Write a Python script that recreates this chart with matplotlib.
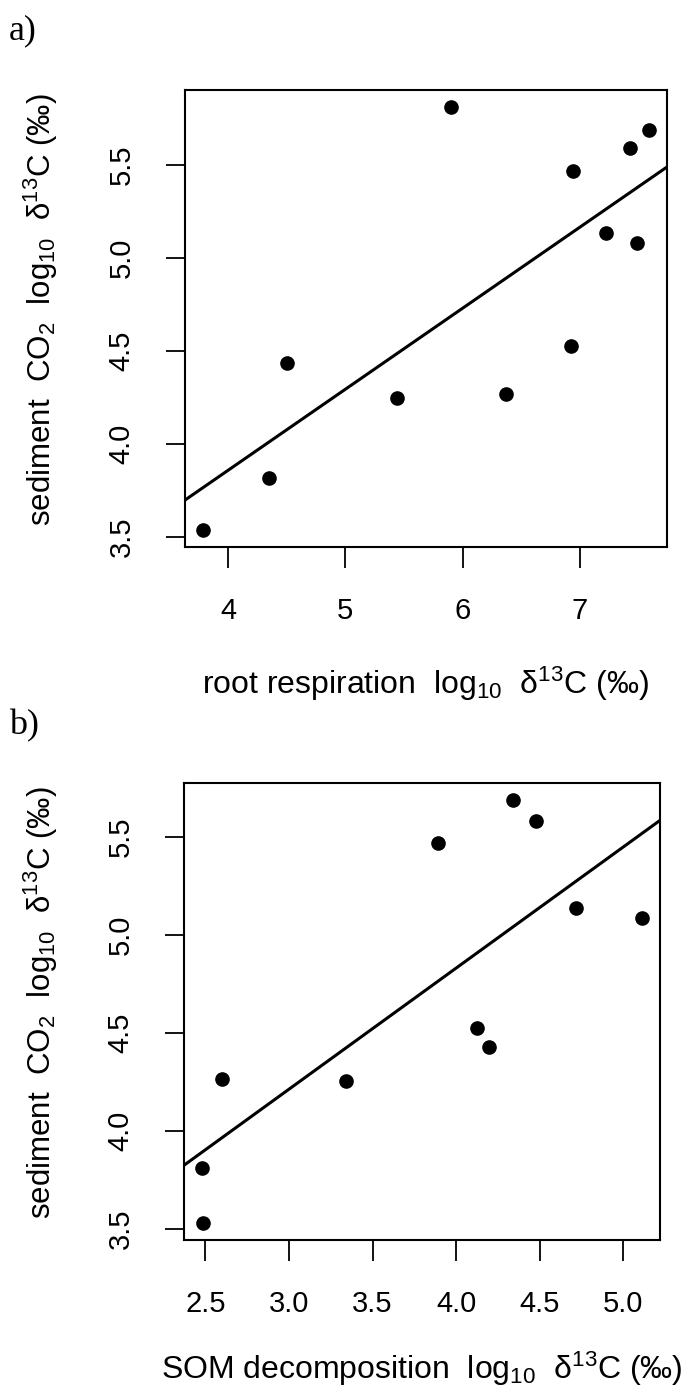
import matplotlib
matplotlib.use('Agg')
import matplotlib.pyplot as plt
import numpy as np

plt.rcParams['font.family'] = ['Liberation Sans', 'DejaVu Sans']
plt.rcParams['mathtext.fontset'] = 'custom'
plt.rcParams['mathtext.rm'] = 'Liberation Sans'
plt.rcParams['mathtext.it'] = 'Liberation Sans:italic'
plt.rcParams['mathtext.default'] = 'regular'

# panel a: root respiration vs sediment CO2
root_x = [5.90, 7.59, 7.43, 6.94, 7.22, 7.485, 6.92, 4.506, 5.44, 6.37, 4.349, 3.786]
root_y = [5.81, 5.688, 5.588, 5.464, 5.134, 5.077, 4.523, 4.434, 4.245, 4.269, 3.814, 3.536]

# panel b: SOM decomposition vs sediment CO2
som_x = [4.343, 4.478, 3.894, 4.720, 5.114, 4.124, 4.198, 2.598, 3.344, 2.478, 2.488]
som_y = [5.687, 5.581, 5.466, 5.135, 5.084, 4.523, 4.427, 4.263, 4.253, 3.810, 3.531]

a_xticks = [4, 5, 6, 7]
a_xticklabels = ['4', '5', '6', '7']
b_xticks = [2.5, 3.0, 3.5, 4.0, 4.5, 5.0]
b_xticklabels = ['2.5', '3.0', '3.5', '4.0', '4.5', '5.0']
yticks = [3.5, 4.0, 4.5, 5.0, 5.5]
yticklabels = ['3.5', '4.0', '4.5', '5.0', '5.5']

ylab = r'sediment  CO$_2$  log$_{10}$  δ$^{13}$C (‰)'
a_xlab = r'root respiration  log$_{10}$  δ$^{13}$C (‰)'
b_xlab = r'SOM decomposition  log$_{10}$  δ$^{13}$C (‰)'

W, H = 699, 1392
fig = plt.figure(figsize=(W / 100, H / 100), dpi=100)


def panel(rect, x, y, xt, xtl, xlab, xlab_y):
    ax = fig.add_axes(rect)
    x = np.asarray(x)
    y = np.asarray(y)
    ax.plot(x, y, 'o', color='black', markersize=9.5, zorder=3)
    ax.set_xlim(x.min() - 0.04 * np.ptp(x), x.max() + 0.04 * np.ptp(x))
    ax.set_ylim(y.min() - 0.04 * np.ptp(y), y.max() + 0.04 * np.ptp(y))
    # least squares line across the whole plot region
    k, b = np.polyfit(x, y, 1)
    xl = np.array(ax.get_xlim())
    ax.plot(xl, k * xl + b, color='black', linewidth=2.2)
    ax.set_xlim(xl)
    ax.set_xticks(xt)
    ax.set_xticklabels(xtl)
    ax.set_yticks(yticks)
    ax.set_yticklabels(yticklabels, rotation=90, va='center')
    ax.tick_params(axis='x', length=15, width=1.3, labelsize=21, pad=21)
    ax.tick_params(axis='y', length=13.5, width=1.3, labelsize=21, pad=22)
    for s in ax.spines.values():
        s.set_linewidth(1.5)
    ax.set_xlabel(xlab, fontsize=23)
    ax.set_ylabel(ylab, fontsize=22.5)
    ax.xaxis.set_label_coords(0.5, xlab_y)
    ax.yaxis.set_label_coords(-0.30, 0.52)
    ax.xaxis.label.set_va('center')
    ax.yaxis.label.set_va('center')
    return ax


panel([185 / W, 1 - 547 / H, 482 / W, 457 / H], root_x, root_y, a_xticks, a_xticklabels, a_xlab, -0.30)
panel([184 / W, 1 - 1240 / H, 476 / W, 457 / H], som_x, som_y, b_xticks, b_xticklabels, b_xlab, -0.283)

fig.text(9 / W, 1 - 31 / H, 'a)', family='Liberation Serif', fontsize=26, va='center', ha='left')
fig.text(9 / W, 1 - 726 / H, 'b)', family='Liberation Serif', fontsize=26, va='center', ha='left')

plt.savefig('out.png', dpi=100)
